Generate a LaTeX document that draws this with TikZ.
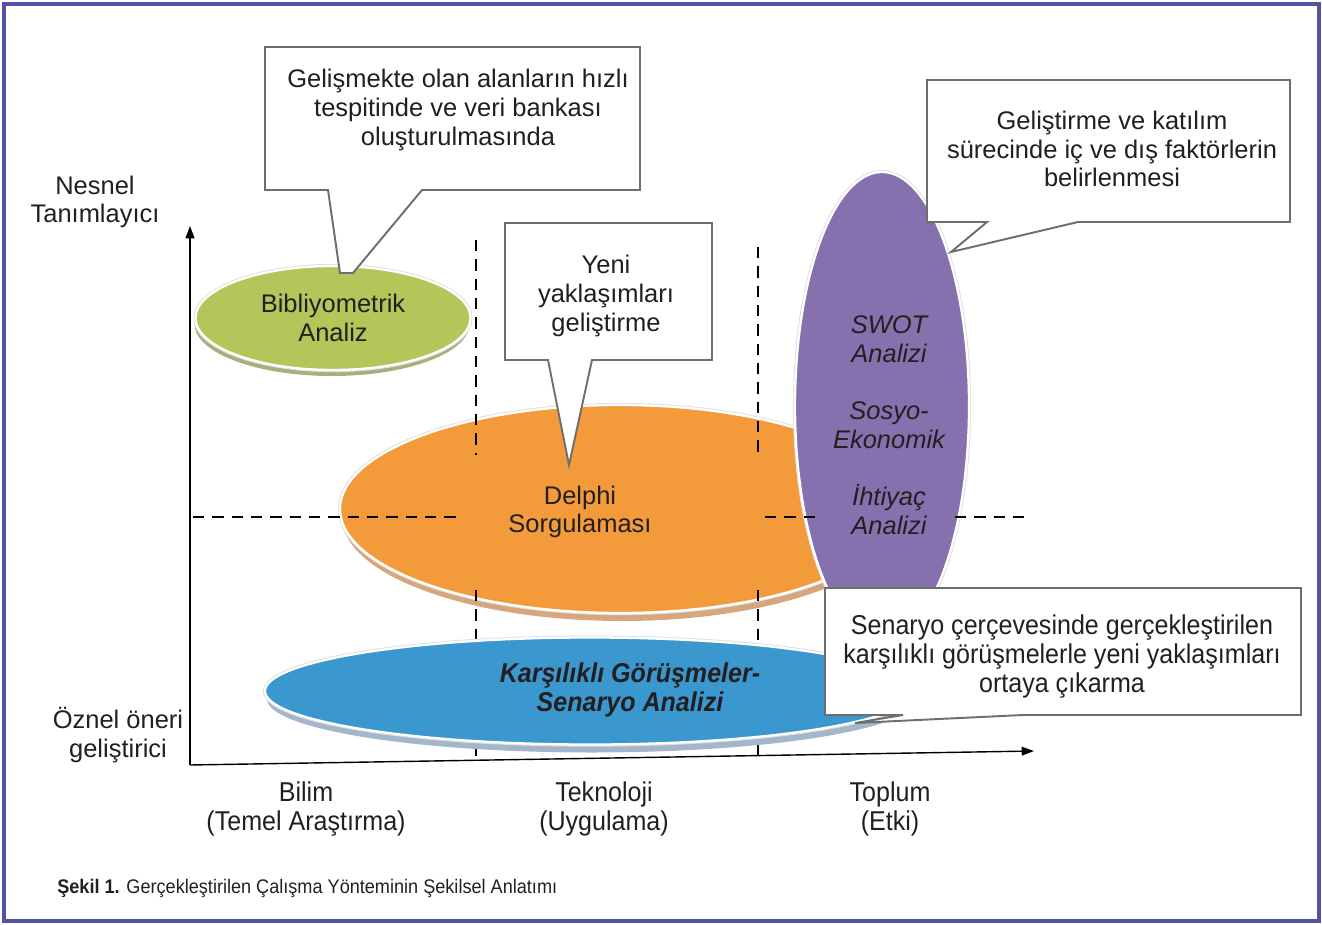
\documentclass[tikz,border=0pt]{standalone}
\usepackage{fontspec}
\setmainfont{Liberation Sans}
\newfontfamily\narrowfont[FakeStretch=0.92]{Liberation Sans}
\usepackage{tikz}
\usetikzlibrary{arrows.meta,shapes.geometric}
\definecolor{fgframe}{HTML}{5353A4}
\definecolor{fgtext}{HTML}{231F20}
\definecolor{fgnote}{HTML}{6E6E6E}
\definecolor{fggreen}{HTML}{B4C55A}
\definecolor{fggreenlow}{HTML}{A7B07C}
\definecolor{fgorange}{HTML}{F39A3B}
\definecolor{fgorangelow}{HTML}{D8A67C}
\definecolor{fgpurple}{HTML}{8471AD}
\definecolor{fgblue}{HTML}{3A98CF}
\definecolor{fgbluelow}{HTML}{A3B6CC}

\begin{document}
\begin{tikzpicture}[x=0.2mm, y=-0.2mm,
  blob/.style={ellipse, inner sep=0pt, preaction={draw=black!12, line width=2.4pt},
               draw=white, line width=1.3pt},
  blobshade/.style={ellipse, inner sep=0pt},
  txt/.style={align=center, text=fgtext, font=\fontsize{14.5}{16.3}\selectfont},
  narrowtxt/.style={align=center, text=fgtext, font=\narrowfont\fontsize{15.5}{16.5}\selectfont},
  note/.style={draw=fgnote, line width=1.1pt, fill=white, line join=miter},
  guide/.style={dash pattern=on 6.5pt off 4.5pt, line width=0.6pt},
  axis/.style={-{Triangle[length=7pt,width=5pt]}, line width=0.8pt}
]
  \useasboundingbox (0,0) rectangle (1322,925);
  \draw[fgframe, line width=1.8pt] (4,4) rectangle (1319,921);

  % ellipses
  \node[blobshade, fill=fggreenlow, minimum width=55mm, minimum height=20.8mm] (bibshade) at (332,324) {};
  \node[blob, fill=fggreen, minimum width=55mm, minimum height=20.8mm, txt] (bib) at (333,318) {Bibliyometrik\\Analiz};
  \node[blobshade, fill=fgorangelow, minimum width=112mm, minimum height=41.6mm] (delphishade) at (622,517) {};
  \node[blob, fill=fgorange, minimum width=112mm, minimum height=41.6mm] (delphi) at (620,509) {};
  \node[txt] (delphilbl) at (580,512) {Delphi\\Sorgulaması};
  \node[blob, fill=fgpurple, minimum width=34.8mm, minimum height=93.6mm] (swot) at (882,406) {};
  \node[txt, font=\fontsize{14.5}{16.3}\selectfont\itshape] (swotlbl) at (889,425)
    {SWOT\\Analizi\\[16.3pt]Sosyo-\\Ekonomik\\[16.3pt]İhtiyaç\\Analizi};

  % dashed guides
  \draw[guide] (476,240) -- (476,455);
  \draw[guide] (476,590) -- (476,760);
  \draw[guide] (758,247) -- (758,455);
  \draw[guide] (758,590) -- (758,756);
  \draw[guide] (193,517) -- (460,517);
  \draw[guide] (765,517) -- (822,517);
  \draw[guide] (955,517) -- (1025,517);

  \node[blobshade, fill=fgbluelow, minimum width=130mm, minimum height=21.4mm] (karsshade) at (592,699) {};
  \node[blob, fill=fgblue, minimum width=130mm, minimum height=21.4mm] (kars) at (590,691) {};
  \node[narrowtxt, font=\narrowfont\fontsize{15.5}{16.5}\selectfont\bfseries\itshape] (karslbl) at (630,690)
    {Karşılıklı Görüşmeler-\\Senaryo Analizi};

  % axes
  \coordinate (origin) at (190,765);
  \coordinate (ytip) at (190,226);
  \coordinate (xtip) at (1034,751);
  \draw[axis] (origin) -- (ytip);
  \draw[axis] (origin) -- (xtip);
  \node[txt] (ytop) at (95,202) {Nesnel\\Tanımlayıcı};
  \node[txt] (ybottom) at (118,735) {Öznel öneri\\geliştirici};
  \node[narrowtxt] (bilim) at (306,809) {Bilim\\(Temel Araştırma)};
  \node[narrowtxt] (tekno) at (604,809) {Teknoloji\\(Uygulama)};
  \node[narrowtxt] (toplum) at (890,809) {Toplum\\(Etki)};

  % callouts
  \draw[note] (265,47) -- (640,47) -- (640,190) -- (422,190) -- (353,273) -- (340,273) -- (328,190) -- (265,190) -- cycle;
  \node[txt] (bibnote) at (458,110) {Gelişmekte olan alanların hızlı\\tespitinde ve veri bankası\\oluşturulmasında};
  \draw[note] (505,223) -- (712,223) -- (712,360) -- (592,360) -- (569,465) -- (548,360) -- (505,360) -- cycle;
  \node[txt] (delphinote) at (606,296) {Yeni\\yaklaşımları\\geliştirme};
  \draw[note] (927,80) -- (1290,80) -- (1290,222) -- (1078,222) -- (951,252) -- (987,222) -- (927,222) -- cycle;
  \node[txt] (swotnote) at (1112,149) {Geliştirme ve katılım\\sürecinde iç ve dış faktörlerin\\belirlenmesi};
  \draw[note] (825,588) -- (1301,588) -- (1301,715) -- (1023,715) -- (855,723) -- (903,715) -- (825,715) -- cycle;
  \node[narrowtxt] (karsnote) at (1062,657) {Senaryo çerçevesinde gerçekleştirilen\\karşılıklı görüşmelerle yeni yaklaşımları\\ortaya çıkarma};

  % caption
  \node[anchor=base west, inner sep=0pt, text=fgtext, font=\narrowfont\fontsize{11.2}{14}\selectfont] (caption) at (57,893)
    {\textbf{Şekil 1.} Gerçekleştirilen Çalışma Yönteminin Şekilsel Anlatımı};
\end{tikzpicture}
\end{document}
